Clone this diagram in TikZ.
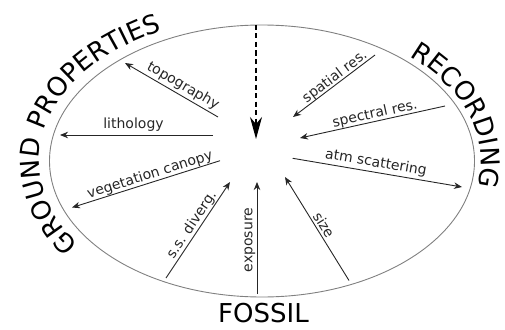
\documentclass[tikz,border=0pt]{standalone}
\usepackage{fontspec}
\setmainfont{DejaVu Sans}
\usetikzlibrary{arrows.meta,decorations.text}
\begin{document}
\begin{tikzpicture}[x=1pt,y=1pt,
  arr/.style={draw=black!85, line width=0.9pt, -{Stealth[length=8pt,width=6.5pt,inset=2.5pt]}},
  lab/.style={inner sep=0pt, font=\fontsize{14}{14}\selectfont, text=black!85},
  big/.style={inner sep=0pt, font=\fontsize{26}{26}\selectfont}]
\useasboundingbox (0,0) rectangle (505,-329);
% ellipse
\draw[gray, line width=0.9pt] (262,-161) ellipse [x radius=212.5, y radius=136];
% coordinates
\coordinate (top) at (256,-25);
\coordinate (ctr) at (256,-139);
\coordinate (topoS) at (218,-117);   \coordinate (topoT) at (125,-63);
\coordinate (lithS) at (213,-135);   \coordinate (lithT) at (60,-135);
\coordinate (vegS) at (220,-160.7);  \coordinate (vegT) at (72,-207.5);
\coordinate (ssS) at (166,-278);     \coordinate (ssT) at (230,-182);
\coordinate (expS) at (257,-294);    \coordinate (expT) at (257,-182);
\coordinate (sizeS) at (349,-280.5); \coordinate (sizeT) at (285,-177);
\coordinate (atmS) at (292.7,-158.3);\coordinate (atmT) at (462,-187);
\coordinate (specS) at (445,-106);   \coordinate (specT) at (300,-138);
\coordinate (spatS) at (375,-55);    \coordinate (spatT) at (293,-117);
% dashed arrow
\draw[black, line width=1.4pt, dash pattern=on 5pt off 3.5pt,
  -{Stealth[length=22pt,width=12pt,inset=7pt]}] (top) -- (ctr);
% arrows
\draw[arr] (topoS) -- (topoT);
\draw[arr] (lithS) -- (lithT);
\draw[arr] (vegS) -- (vegT);
\draw[arr] (ssS) -- (ssT);
\draw[arr] (expS) -- (expT);
\draw[arr] (sizeS) -- (sizeT);
\draw[arr] (atmS) -- (atmT);
\draw[arr] (specS) -- (specT);
\draw[arr] (spatS) -- (spatT);
% labels
\node[lab, rotate=-30.1] (ltopo) at (183,-86) {topography};
\node[lab, anchor=base] (llith) at (133.5,-128) {lithology};
\node[lab, rotate=17.6] (lveg) at (150,-175) {vegetation canopy};
\node[lab, rotate=56.3] (lss) at (192,-225) {s.s. diverg.};
\node[lab, rotate=90] (lexp) at (250,-240) {exposure};
\node[lab, rotate=-58.4] (lsize) at (324,-225) {size};
\node[lab, rotate=-9.7] (latm) at (376,-163) {atm scattering};
\node[lab, rotate=12.4] (lspec) at (375,-114) {spectral res.};
\node[lab, rotate=37.1] (lspat) at (335,-77) {spatial res.};
% big titles
\node[big, anchor=base] (fossil) at (263.5,-322) {FOSSIL};
\path[decorate, decoration={text along path, text align=center,
  text={|\fontsize{26}{26}\selectfont|GROUND PROPERTIES}}]
  (262,-161) ++(225:223 and 146) arc[start angle=225, end angle=108, x radius=223, y radius=146];
\path[decorate, decoration={text along path, text align=center,
  text={|\fontsize{26}{26}\selectfont|RECORDING}}]
  (262,-161) ++(55:219 and 142) arc[start angle=55, end angle=-20, x radius=219, y radius=142];
\end{tikzpicture}
\end{document}
